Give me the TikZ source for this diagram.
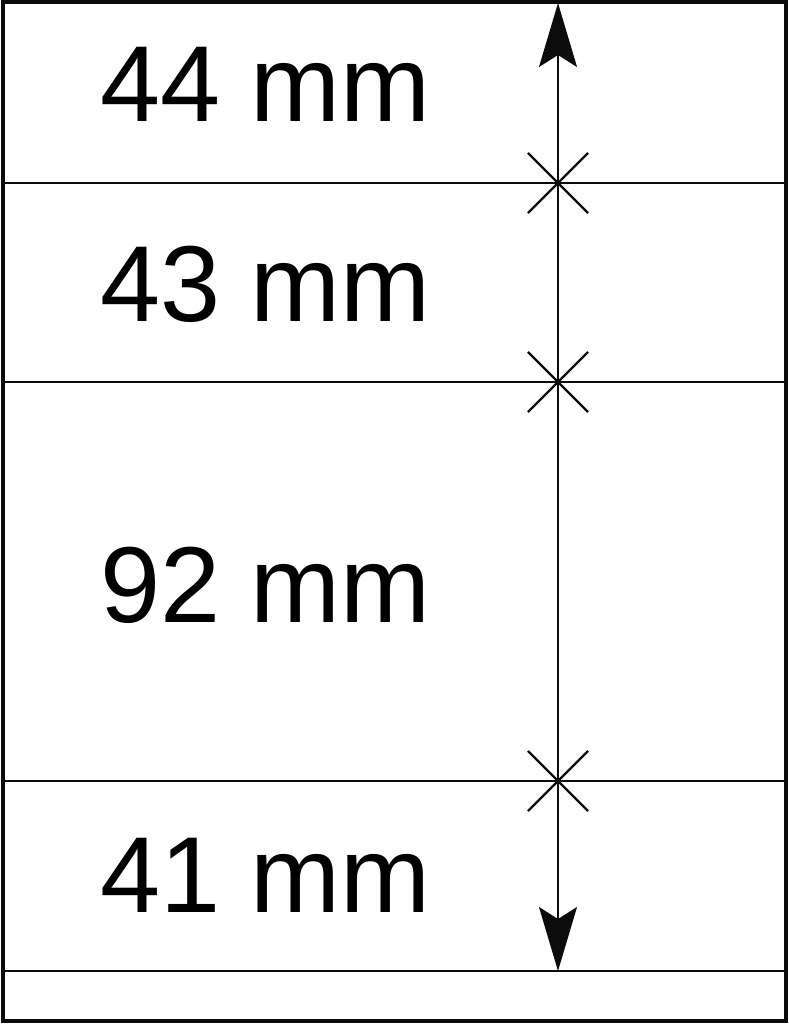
\documentclass[tikz,border=0pt]{standalone}
\usepackage{fontspec}
\setmainfont{Liberation Sans}
\usetikzlibrary{arrows.meta, shapes.misc}
\definecolor{color_line}{RGB}{12,12,12}

\begin{document}
\begin{tikzpicture}[x=1pt, y=-1pt,
	frame_line/.style={draw=color_line, line width=3.2pt},
	row_line/.style={draw=color_line, line width=2.4pt},
	dim_line/.style={draw=color_line, line width=1.8pt,
		{Stealth[length=64pt, width=38pt, inset=12pt]}-{Stealth[length=64pt, width=38pt, inset=12pt]}},
	tick_mark/.style={cross out, draw=color_line, line width=2.2pt,
		minimum size=58pt, inner sep=0pt},
	size_label/.style={anchor=base west, inner sep=0pt,
		font=\fontsize{108}{112}\selectfont}]
	\useasboundingbox (0,0) rectangle (788,1024);
	% FRAME
	\draw[frame_line] (3,2) rectangle (786,1021);
	\coordinate (l1) at (3,183);   \coordinate (r1) at (786,183);
	\coordinate (l2) at (3,382);   \coordinate (r2) at (786,382);
	\coordinate (l3) at (3,781);   \coordinate (r3) at (786,781);
	\coordinate (l4) at (3,971);   \coordinate (r4) at (786,971);
	\foreach \i in {1,...,4} {
		\draw[row_line] (l\i) -- (r\i);
	}
	% SIZES
	\node[size_label] (s44) at (100,122) {44 mm};
	\node[size_label] (s43) at (100,321) {43 mm};
	\node[size_label] (s92) at (100,622) {92 mm};
	\node[size_label] (s41) at (100,912) {41 mm};
	% DIMENSION
	\coordinate (dim_top) at (558,3);
	\coordinate (dim_bot) at (558,971);
	\draw[dim_line] (dim_top) -- (dim_bot);
	\node[tick_mark] (t1) at (558,183) {};
	\node[tick_mark] (t2) at (558,382) {};
	\node[tick_mark] (t3) at (558,781) {};
\end{tikzpicture}
\end{document}
